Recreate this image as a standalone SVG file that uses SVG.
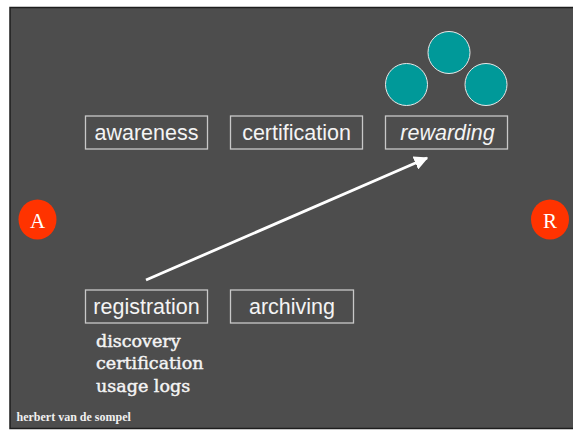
<svg xmlns="http://www.w3.org/2000/svg" width="573" height="431" viewBox="0 0 573 431">
<defs>
<style>
.box{fill:none;stroke:#c8c8c8;stroke-width:1.3}
.lbl{font-family:"Liberation Sans",Arial,sans-serif;font-size:21.5px;fill:#f4f4f4;text-anchor:middle}
.sub{font-family:"DejaVu Serif",serif;font-size:17.5px;fill:#f4f4f4;stroke:#f4f4f4;stroke-width:0.45}
.ar{fill:#ff3300}
.arl{font-family:"Liberation Serif",serif;font-size:21px;fill:#ffffff;text-anchor:middle}
.teal{fill:#009999;stroke:#e8e8e8;stroke-width:1}
</style>
<marker id="ah" viewBox="0 0 10 10" refX="9" refY="5" markerWidth="5" markerHeight="5" orient="auto" markerUnits="strokeWidth">
<path d="M0,0 L10,5 L0,10 z" fill="#ffffff"/>
</marker>
</defs>
<rect x="0" y="0" width="573" height="431" fill="#ffffff"/>
<rect x="10" y="7.5" width="566" height="421" fill="#4d4d4d" stroke="#1e1e1e" stroke-width="1.5"/>
<g id="circles">
<ellipse class="teal" cx="449" cy="52.5" rx="21" ry="21"/>
<ellipse class="teal" cx="406.5" cy="84.5" rx="21" ry="21"/>
<ellipse class="teal" cx="486" cy="84.5" rx="21" ry="21"/>
</g>
<g id="awareness">
<rect class="box" x="85.5" y="116" width="122" height="33"/>
<text class="lbl" x="146.5" y="140">awareness</text>
</g>
<g id="certification">
<rect class="box" x="230.5" y="116" width="132" height="33"/>
<text class="lbl" x="296.5" y="140">certification</text>
</g>
<g id="rewarding">
<rect class="box" x="385.5" y="116" width="122" height="33"/>
<text class="lbl" x="447.5" y="140" font-style="italic">rewarding</text>
</g>
<g id="registration">
<rect class="box" x="85.5" y="290" width="122" height="33"/>
<text class="lbl" x="146.5" y="314">registration</text>
</g>
<g id="archiving">
<rect class="box" x="230.5" y="290" width="123" height="33"/>
<text class="lbl" x="292" y="314">archiving</text>
</g>
<g id="A">
<ellipse class="ar" cx="37.5" cy="219.5" rx="19" ry="20"/>
<text class="arl" x="37.5" y="227.5">A</text>
</g>
<g id="R">
<ellipse class="ar" cx="550" cy="219.5" rx="19" ry="20"/>
<text class="arl" x="550" y="227.5">R</text>
</g>
<g id="connectors">
<line x1="146" y1="280" x2="427" y2="158" stroke="#ffffff" stroke-width="2.8" marker-end="url(#ah)"/>
</g>
<g id="notes">
<text class="sub" x="96" y="346.5">discovery</text>
<text class="sub" x="96" y="369">certification</text>
<text class="sub" x="96" y="391.5">usage logs</text>
</g>
<text x="16.5" y="421" font-family="'Liberation Serif',serif" font-weight="bold" font-size="12" fill="#f0f0f0">herbert van de sompel</text>
</svg>
